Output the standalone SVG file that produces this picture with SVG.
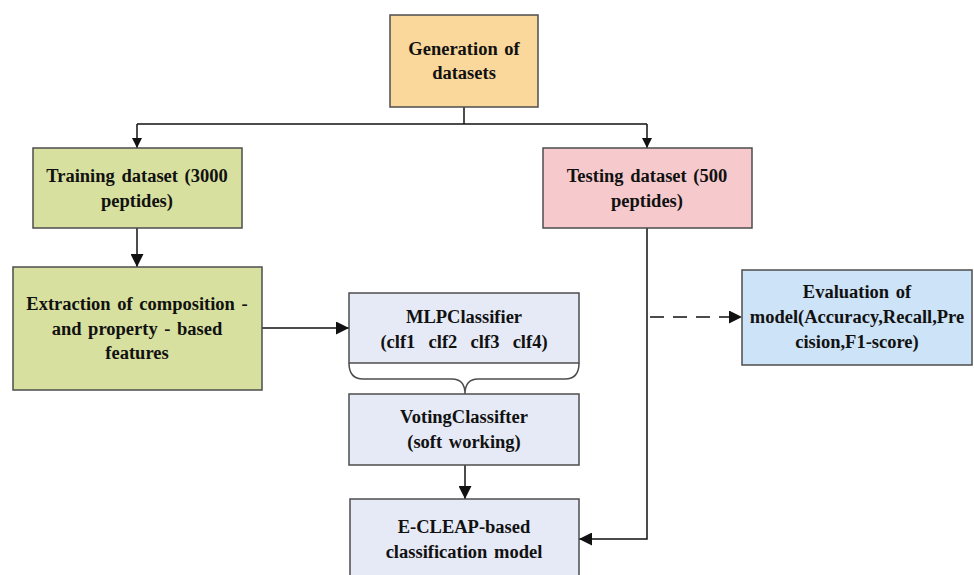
<svg xmlns="http://www.w3.org/2000/svg" width="974" height="575" viewBox="0 0 974 575">
<defs>
<style>
.box{stroke:#4d4d4d;stroke-width:1.5}
.t{font-family:"Liberation Serif","Times New Roman",serif;font-weight:bold;font-size:18.5px;word-spacing:2px;fill:#111;text-anchor:middle}
.pre{white-space:pre}
.ln{fill:none;stroke:#111;stroke-width:1.5}
</style>
<marker id="ah" viewBox="0 0 10 10" refX="10" refY="5" markerWidth="10" markerHeight="10" markerUnits="userSpaceOnUse" orient="auto">
<path d="M0,0 L10,5 L0,10 Z" fill="#111"/>
</marker>
<marker id="ah2" viewBox="0 0 12 12" refX="12" refY="6" markerWidth="13" markerHeight="13" markerUnits="userSpaceOnUse" orient="auto">
<path d="M0,0 L12,6 L0,12 Z" fill="#111"/>
</marker>
</defs>
<rect width="974" height="575" fill="#fff"/>
<g id="connectors">
<path class="ln" d="M464,107 V124"/>
<path class="ln" d="M137,124 H647"/>
<path class="ln" d="M137,124 V148" marker-end="url(#ah)"/>
<path class="ln" d="M647,124 V148" marker-end="url(#ah)"/>
<path class="ln" d="M137,228 V267" marker-end="url(#ah2)"/>
<path class="ln" d="M262,328 H349" marker-end="url(#ah2)"/>
<path class="ln" d="M465,465 V499" marker-end="url(#ah2)"/>
<path class="ln" d="M647,228 V539 H579" marker-end="url(#ah2)"/>
<path class="ln" d="M650,317 H742" stroke-dasharray="14,9" marker-end="url(#ah2)"/>
</g>
<g id="generation">
<rect class="box" x="390" y="15" width="148" height="92" fill="#fad79b"/>
<text class="t" x="464" y="55">Generation of</text>
<text class="t" x="464" y="79">datasets</text>
</g>
<g id="training">
<rect class="box" x="33" y="148" width="209" height="80" fill="#d7e09e"/>
<text class="t" x="137" y="182">Training dataset (3000</text>
<text class="t" x="137" y="207">peptides)</text>
</g>
<g id="testing">
<rect class="box" x="543" y="148" width="209" height="80" fill="#f6cacd"/>
<text class="t" x="647" y="182">Testing dataset (500</text>
<text class="t" x="647" y="207">peptides)</text>
</g>
<g id="extraction">
<rect class="box" x="13" y="267" width="249" height="123" fill="#d7e09e"/>
<text class="t" x="137" y="310">Extraction of composition -</text>
<text class="t" x="137" y="335">and property - based</text>
<text class="t" x="137" y="359">features</text>
</g>
<g id="mlp">
<rect class="box" x="349" y="293" width="230" height="70" fill="#e6eaf6"/>
<path class="box" fill="none" d="M349,363 Q349,379 363,379 L452,379 Q465,379 465,394 Q465,379 478,379 L565,379 Q579,379 579,363"/>
<text class="t" x="464" y="323">MLPClassifier</text>
<text class="t pre" x="464" y="348">(clf1  clf2  clf3  clf4)</text>
</g>
<g id="voting">
<rect class="box" x="349" y="394" width="230" height="71" fill="#e6eaf6"/>
<text class="t" x="464" y="423">VotingClassifter</text>
<text class="t" x="464" y="448">(soft working)</text>
</g>
<g id="ecleap">
<rect class="box" x="350" y="499" width="229" height="90" fill="#e6eaf6"/>
<text class="t" x="464" y="533">E-CLEAP-based</text>
<text class="t" x="464" y="558">classification model</text>
</g>
<g id="evaluation">
<rect class="box" x="742" y="270" width="230" height="95" fill="#cde3f7"/>
<text class="t" x="857" y="298">Evaluation of</text>
<text class="t" x="857" y="323">model(Accuracy,Recall,Pre</text>
<text class="t" x="857" y="348">cision,F1-score)</text>
</g>
</svg>
